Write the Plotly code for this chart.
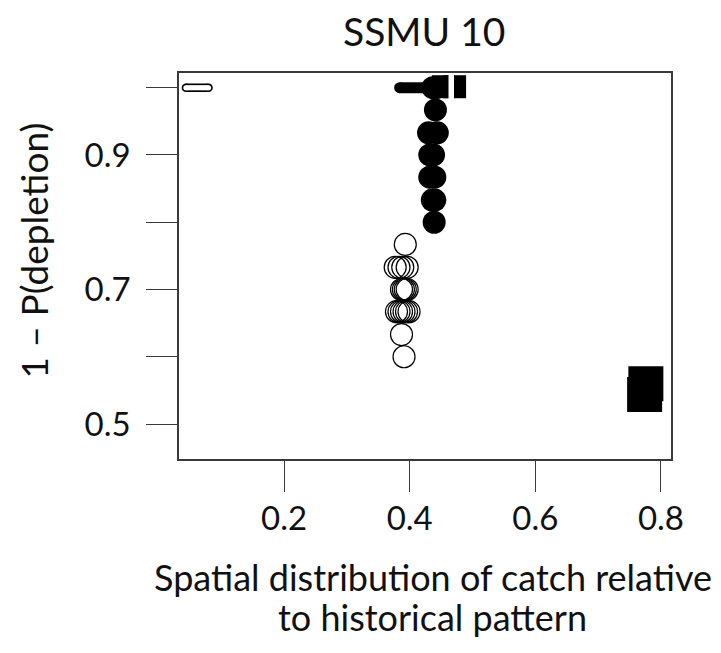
import plotly.graph_objects as go

# ---- data ----
# open circles: strategy results with lower probability
open_x = [0.393, 0.377, 0.383, 0.389, 0.396, 0.387, 0.390, 0.393, 0.396,
          0.379, 0.383, 0.387, 0.391, 0.395, 0.399, 0.387, 0.391]
open_y = [0.767, 0.733, 0.733, 0.733, 0.733, 0.700, 0.700, 0.700, 0.700,
          0.667, 0.667, 0.667, 0.667, 0.667, 0.667, 0.633, 0.600]

# filled circles
fill_x = [0.437, 0.442, 0.441, 0.430, 0.444, 0.432, 0.438, 0.432, 0.440,
          0.436, 0.440, 0.439]
fill_y = [1.000, 1.000, 0.967, 0.933, 0.933, 0.900, 0.900, 0.867, 0.867,
          0.833, 0.833, 0.800]

# thick filled segment at the top
bar_x = [0.384, 0.440]
bar_y = [1.0, 1.0]

# open elongated mark at the top left
oval_x = [0.0438, 0.0798]
oval_y = [1.0, 1.0]

# filled squares
sq_top_x = [0.4535, 0.4715]
sq_top_y = [1.0015, 1.0015]
gap_x = [0.4662]
gap_y = [1.0015]
sq_bot_x = [0.774, 0.776]
sq_bot_y = [0.544, 0.560]

y_ticks = [0.5, 0.6, 0.7, 0.8, 0.9, 1.0]
y_ticktext = ["0.5", "", "0.7", "", "0.9", ""]
x_ticks = [0.2, 0.4, 0.6, 0.8]
x_ticktext = ["0.2", "0.4", "0.6", "0.8"]

FONT = "Lato"
AX = "#3a3a3a"
TXT = "#111"

fig = go.Figure()

# top-left open mark: black outer stroke then white inner
fig.add_trace(go.Scatter(x=oval_x, y=oval_y, mode="lines+markers",
                         line=dict(color="black", width=8.5),
                         marker=dict(symbol="circle", size=8.5, color="black"),
                         hoverinfo="skip", showlegend=False))
fig.add_trace(go.Scatter(x=oval_x, y=oval_y, mode="lines+markers",
                         line=dict(color="white", width=5.2),
                         marker=dict(symbol="circle", size=5.2, color="white"),
                         hoverinfo="skip", showlegend=False))

# bottom-right squares
fig.add_trace(go.Scatter(x=sq_bot_x, y=sq_bot_y, mode="markers",
                         marker=dict(symbol="square", size=35, color="black",
                                     line=dict(width=0)),
                         showlegend=False))

# top squares with white gap
fig.add_trace(go.Scatter(x=sq_top_x, y=sq_top_y, mode="markers",
                         marker=dict(symbol="square", size=23, color="black",
                                     line=dict(width=0)),
                         showlegend=False))
fig.add_trace(go.Scatter(x=gap_x, y=gap_y, mode="markers",
                         marker=dict(symbol="line-ns", size=18,
                                     line=dict(color="white", width=5.5)),
                         showlegend=False))

# open circles
fig.add_trace(go.Scatter(x=open_x, y=open_y, mode="markers",
                         marker=dict(symbol="circle-open", size=22, color="black",
                                     line=dict(width=1.2)),
                         showlegend=False))

# thick top bar
fig.add_trace(go.Scatter(x=bar_x, y=bar_y, mode="lines+markers",
                         line=dict(color="black", width=11),
                         marker=dict(symbol="circle", size=11, color="black"),
                         showlegend=False))

# filled circles
fig.add_trace(go.Scatter(x=fill_x, y=fill_y, mode="markers",
                         marker=dict(symbol="circle", size=23, color="black",
                                     line=dict(width=0)),
                         showlegend=False))

axis_common = dict(showline=True, mirror=True, linecolor=AX, linewidth=1.5,
                   ticks="outside", ticklen=31, tickwidth=1.4, tickcolor=AX,
                   showgrid=False, zeroline=False,
                   tickfont=dict(family=FONT, size=33, color=TXT))

fig.update_xaxes(range=[0.0328, 0.816], tickvals=x_ticks, ticktext=x_ticktext,
                 ticklabelstandoff=-1, **axis_common)
fig.update_yaxes(range=[0.448, 1.0219], tickvals=y_ticks, ticktext=y_ticktext,
                 ticklabelstandoff=9, **axis_common)

fig.update_layout(
    width=713, height=645,
    margin=dict(l=171, r=50, t=65, b=194),
    paper_bgcolor="white", plot_bgcolor="white",
    font=dict(family=FONT, color=TXT),
    annotations=[
        dict(text="SSMU 10", x=0.498, y=1.108, xref="paper", yref="paper",
             xanchor="center", yanchor="middle", showarrow=False,
             font=dict(family=FONT, size=39, color=TXT)),
        dict(text="1 \u2013 P(depletion)", x=-0.295, y=0.54, xref="paper", yref="paper",
             xanchor="center", yanchor="middle", textangle=-90, showarrow=False,
             font=dict(family=FONT, size=37, color=TXT)),
        dict(text="Spatial distribution of catch relative",
             x=0.516, y=-0.305, xref="paper", yref="paper",
             xanchor="center", yanchor="middle", showarrow=False,
             font=dict(family=FONT, size=36, color=TXT)),
        dict(text="to historical pattern",
             x=0.516, y=-0.410, xref="paper", yref="paper",
             xanchor="center", yanchor="middle", showarrow=False,
             font=dict(family=FONT, size=36, color=TXT)),
    ],
)

fig.write_html("out.html")
